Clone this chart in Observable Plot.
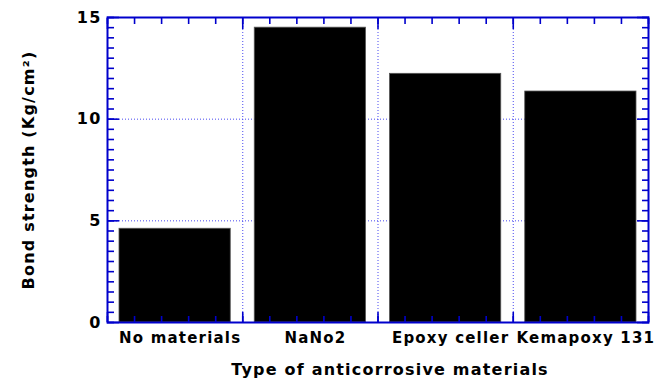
<!DOCTYPE html>
<html>
<head>
<meta charset="utf-8">
<script src="https://cdn.jsdelivr.net/npm/d3@7"></script>
<script src="https://cdn.jsdelivr.net/npm/@observablehq/plot@0.6"></script>
<style>
  html, body { margin: 0; padding: 0; background: #fff; }
  #chart svg text { letter-spacing: 1.2px; }
</style>
</head>
<body>
<div id="chart"></div>
<script>
// ---- data ----
const categories = ["No materials", "NaNo2", "Epoxy celler", "Kemapoxy 131"];
const bondStrength = [4.61, 14.5, 12.23, 11.36];
const yTickValues = [0, 5, 10, 15];
const yGridValues = [5, 10];
const xTitle = "Type of anticorrosive materials";
const yTitle = "Bond strength (Kg/cm\u00B2)";

// ---- derived ----
const rows = categories.map((c, i) => ({ i, category: c, value: bondStrength[i] }));
const bandBounds = d3.range(0, categories.length + 1);
const xMinor = d3.range(0, categories.length * 5 + 1).map(k => k / 5);
const yMinor = d3.range(0, 31).map(k => k / 2);

const BLUE = "#0000cc";
const GRID = "#4848f0";
const FONT = "'DejaVu Sans', Arial, sans-serif";
const noText = () => "";

const plot = Plot.plot({
  width: 665,
  height: 379,
  marginLeft: 107,
  marginRight: 17,
  marginTop: 17,
  marginBottom: 57,
  style: { background: "#fff", fontFamily: FONT },
  x: { type: "linear", domain: [0, categories.length], label: null },
  y: { type: "linear", domain: [0, 15], label: null },
  marks: [
    // dotted grid
    Plot.ruleY(yGridValues, { stroke: GRID, strokeWidth: 1, strokeDasharray: "1,2" }),
    Plot.ruleX(bandBounds.slice(1, -1), { stroke: GRID, strokeWidth: 1, strokeDasharray: "1,2" }),
    // bars
    Plot.rectY(rows, {
      x1: "i", x2: d => d.i + 1, y: "value",
      insetLeft: 12, insetRight: 12,
      fill: "#000", stroke: "#555", strokeWidth: 0.8
    }),
    // inward ticks: bottom/top
    Plot.axisX({ anchor: "bottom", ticks: xMinor, tickSize: -6, tickFormat: noText, stroke: BLUE, strokeWidth: 1.6, label: null }),
    Plot.axisX({ anchor: "bottom", ticks: bandBounds, tickSize: -10, tickFormat: noText, stroke: BLUE, strokeWidth: 1.6, label: null }),
    Plot.axisX({ anchor: "top", ticks: xMinor, tickSize: -6, tickFormat: noText, stroke: BLUE, strokeWidth: 1.6, label: null }),
    Plot.axisX({ anchor: "top", ticks: bandBounds, tickSize: -11, tickFormat: noText, stroke: BLUE, strokeWidth: 1.6, label: null }),
    // inward ticks: left/right
    Plot.axisY({ anchor: "left", ticks: yMinor, tickSize: -7, tickFormat: noText, stroke: BLUE, strokeWidth: 1.6, label: null }),
    Plot.axisY({ anchor: "left", ticks: yTickValues, tickSize: -12, tickFormat: noText, stroke: BLUE, strokeWidth: 1.6, label: null }),
    Plot.axisY({ anchor: "right", ticks: yMinor, tickSize: -7, tickFormat: noText, stroke: BLUE, strokeWidth: 1.6, label: null }),
    Plot.axisY({ anchor: "right", ticks: yTickValues, tickSize: -12, tickFormat: noText, stroke: BLUE, strokeWidth: 1.6, label: null }),
    // frame
    Plot.frame({ stroke: BLUE, strokeWidth: 2 }),
    // y tick labels
    Plot.text(yTickValues, {
      y: d => d, frameAnchor: "left", textAnchor: "end", dx: -6,
      text: d => String(d), fontSize: 16, fontWeight: "bold", fontFamily: FONT, fill: "#000"
    }),
    // x category labels
    Plot.text(rows, {
      x: d => d.i + 0.5, frameAnchor: "bottom", lineAnchor: "middle", dy: 16, dx: 5,
      text: "category", fontSize: 15, fontWeight: "bold", fontFamily: FONT, fill: "#000"
    }),
    // axis titles
    Plot.text([xTitle], {
      frameAnchor: "bottom", lineAnchor: "middle", dy: 47, dx: 12,
      fontSize: 16, fontWeight: "bold", fontFamily: FONT, fill: "#000"
    }),
    Plot.text([yTitle], {
      frameAnchor: "left", textAnchor: "middle", lineAnchor: "middle", rotate: -90, dx: -79, dy: 0,
      fontSize: 16, fontWeight: "bold", fontFamily: FONT, fill: "#000"
    })
  ]
});
document.getElementById("chart").appendChild(plot);
</script>
</body>
</html>
